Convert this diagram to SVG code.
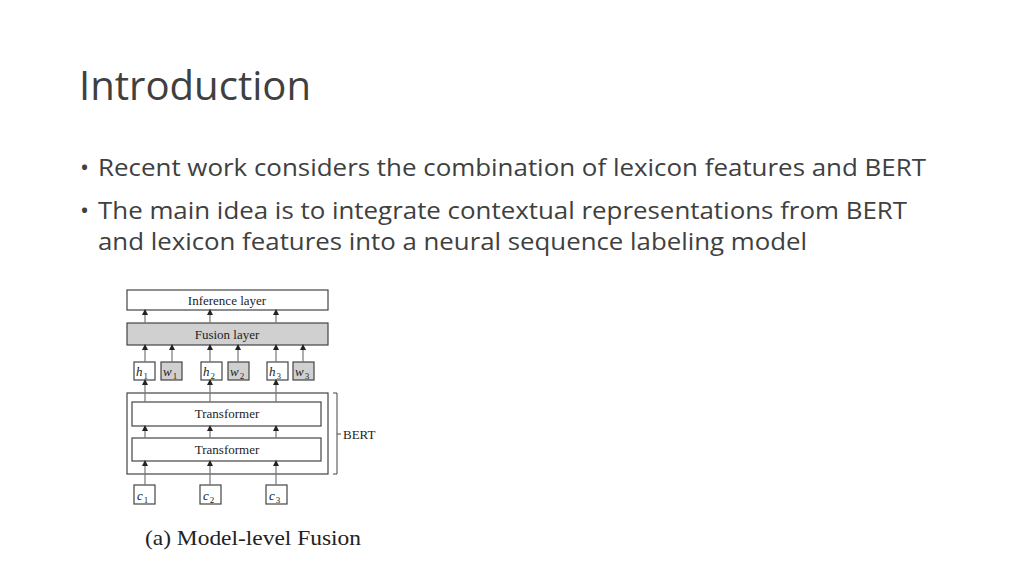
<svg xmlns="http://www.w3.org/2000/svg" width="1024" height="576" viewBox="0 0 1024 576">
<style>
.t{font-family:"Open Sans","Liberation Sans",sans-serif;fill:#404040}
.s{font-family:"Liberation Serif",serif;fill:#222}
.i{font-family:"Liberation Serif",serif;font-style:italic;fill:#222;font-size:13px}
.u{font-style:normal;font-size:9px}
.b{fill:#fff;stroke:#444;stroke-width:1.2}
.g{fill:#d0d0d0;stroke:#444;stroke-width:1.2}
.a{stroke:#777;stroke-width:1.2;marker-end:url(#m)}
</style>
<defs><marker id="m" markerWidth="6" markerHeight="6" refX="5" refY="3" orient="auto" markerUnits="userSpaceOnUse"><path d="M0,0L6,3L0,6Z" fill="#222"/></marker></defs>
<rect width="1024" height="576" fill="#fff"/>
<text class="t" x="79" y="100" font-size="40" textLength="232" lengthAdjust="spacingAndGlyphs">Introduction</text>
<text class="t" x="80" y="176" font-size="24">•</text>
<text class="t" x="98" y="176" font-size="24" textLength="828" lengthAdjust="spacingAndGlyphs">Recent work considers the combination of lexicon features and BERT</text>
<text class="t" x="80" y="219" font-size="24">•</text>
<text class="t" x="98" y="219" font-size="24" textLength="809" lengthAdjust="spacingAndGlyphs">The main idea is to integrate contextual representations from BERT</text>
<text class="t" x="98" y="250" font-size="24" textLength="709" lengthAdjust="spacingAndGlyphs">and lexicon features into a neural sequence labeling model</text>
<g id="inference"><rect class="b" x="127" y="290" width="201" height="20"/><text class="s" x="227" y="305" font-size="13" text-anchor="middle">Inference layer</text></g>
<g id="fusion"><rect class="g" x="127" y="323" width="201" height="22"/><text class="s" x="227" y="339" font-size="13" text-anchor="middle">Fusion layer</text></g>
<g id="h1"><rect class="b" x="134" y="362" width="21" height="18"/><text class="i" x="136" y="376">h<tspan class="u" dx="1" dy="3">1</tspan></text></g>
<g id="w1"><rect class="g" x="161" y="362" width="21" height="18"/><text class="i" x="163" y="376">w<tspan class="u" dx="1" dy="3">1</tspan></text></g>
<g id="h2"><rect class="b" x="201" y="362" width="21" height="18"/><text class="i" x="203" y="376">h<tspan class="u" dx="1" dy="3">2</tspan></text></g>
<g id="w2"><rect class="g" x="228" y="362" width="21" height="18"/><text class="i" x="230" y="376">w<tspan class="u" dx="1" dy="3">2</tspan></text></g>
<g id="h3"><rect class="b" x="267" y="362" width="21" height="18"/><text class="i" x="269" y="376">h<tspan class="u" dx="1" dy="3">3</tspan></text></g>
<g id="w3"><rect class="g" x="293" y="362" width="21" height="18"/><text class="i" x="295" y="376">w<tspan class="u" dx="1" dy="3">3</tspan></text></g>
<g id="bert"><rect class="b" x="127" y="393" width="201" height="81"/><path d="M333,393h4v81h-4M337,434h4" fill="none" stroke="#444"/><text class="s" x="343" y="439" font-size="13">BERT</text></g>
<g id="transformer1"><rect class="b" x="132" y="402" width="189" height="24"/><text class="s" x="227" y="418" font-size="13" text-anchor="middle">Transformer</text></g>
<g id="transformer2"><rect class="b" x="132" y="438" width="189" height="23"/><text class="s" x="227" y="454" font-size="13" text-anchor="middle">Transformer</text></g>
<g id="c1"><rect class="b" x="134" y="485" width="21" height="19"/><text class="i" x="137" y="500">c<tspan class="u" dx="1" dy="3">1</tspan></text></g>
<g id="c2"><rect class="b" x="200" y="485" width="21" height="19"/><text class="i" x="203" y="500">c<tspan class="u" dx="1" dy="3">2</tspan></text></g>
<g id="c3"><rect class="b" x="266" y="485" width="21" height="19"/><text class="i" x="269" y="500">c<tspan class="u" dx="1" dy="3">3</tspan></text></g>
<g id="connectors">
<line class="a" x1="145" y1="323" x2="145" y2="310"/><line class="a" x1="210" y1="323" x2="210" y2="310"/><line class="a" x1="276" y1="323" x2="276" y2="310"/>
<line class="a" x1="145" y1="362" x2="145" y2="345"/><line class="a" x1="172" y1="362" x2="172" y2="345"/><line class="a" x1="210" y1="362" x2="210" y2="345"/><line class="a" x1="238" y1="362" x2="238" y2="345"/><line class="a" x1="276" y1="362" x2="276" y2="345"/><line class="a" x1="303" y1="362" x2="303" y2="345"/>
<line class="a" x1="145" y1="402" x2="145" y2="380"/><line class="a" x1="210" y1="402" x2="210" y2="380"/><line class="a" x1="276" y1="402" x2="276" y2="380"/>
<line class="a" x1="145" y1="438" x2="145" y2="426"/><line class="a" x1="210" y1="438" x2="210" y2="426"/><line class="a" x1="276" y1="438" x2="276" y2="426"/>
<line class="a" x1="145" y1="485" x2="145" y2="461"/><line class="a" x1="210" y1="485" x2="210" y2="461"/><line class="a" x1="276" y1="485" x2="276" y2="461"/>
</g>
<text class="s" x="145" y="545" font-size="21" textLength="216" lengthAdjust="spacingAndGlyphs">(a)  Model-level Fusion</text>
</svg>
